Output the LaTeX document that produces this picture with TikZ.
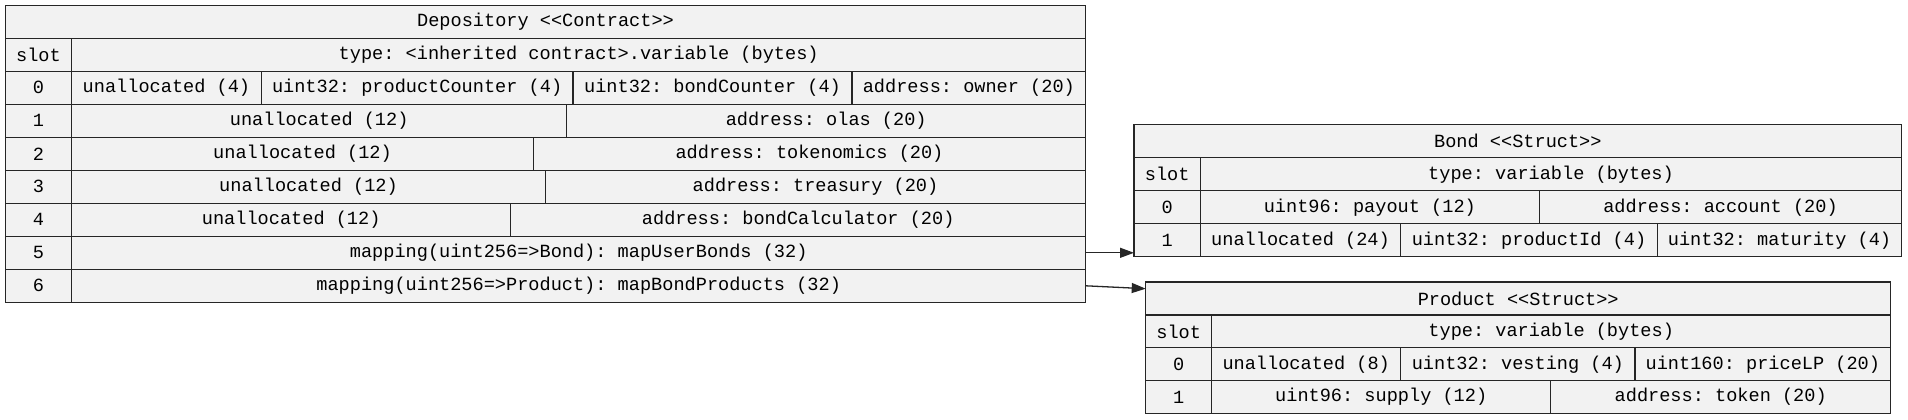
\documentclass[tikz,border=0pt]{standalone}
\usepackage{fontspec}
\setmonofont{Liberation Mono}
\usetikzlibrary{arrows.meta}
\definecolor{cellfill}{HTML}{F2F2F2}
\definecolor{linec}{HTML}{262626}
\tikzset{
  cellbox/.style={draw=linec, fill=cellfill, line width=1.3pt, inner sep=0pt, outer sep=0pt,
    anchor=north west, font=\ttfamily\fontsize{18.6}{20}\selectfont, text=black},
  arr/.style={draw=linec, line width=1.3pt, -{Triangle[length=14pt,width=10pt]}}
}
% \cellnode{name}{x1}{y1}{x2}{y2}{text}
\newcommand\cellnode[6]{%
  \node[cellbox, minimum width={(#4-#2)*1pt}, minimum height={(#5-#3)*1pt}] (#1) at (#2pt,-#3pt) {#6};}
\begin{document}
\begin{tikzpicture}
\useasboundingbox (0,0) rectangle (1908pt,-420pt);
% ---- Depository table
\cellnode{mh}{5.3}{5.3}{1085.7}{38.3}{Depository <<Contract>>}
\cellnode{mss}{5.3}{38.3}{71.7}{71.3}{slot}
\cellnode{mst}{71.7}{38.3}{1085.7}{71.3}{type: <inherited contract>.variable (bytes)}
\cellnode{m0s}{5.3}{71.3}{71.7}{104.3}{0}
\cellnode{m0a}{71.7}{71.3}{261.2}{104.3}{unallocated (4)}
\cellnode{m0b}{261.2}{71.3}{573}{104.3}{uint32: productCounter (4)}
\cellnode{m0c}{573}{71.3}{852}{104.3}{uint32: bondCounter (4)}
\cellnode{m0d}{852}{71.3}{1085.7}{104.3}{address: owner (20)}
\cellnode{m1s}{5.3}{104.3}{71.7}{137.3}{1}
\cellnode{m1a}{71.7}{104.3}{566.7}{137.3}{unallocated (12)}
\cellnode{m1b}{566.7}{104.3}{1085.7}{137.3}{address: olas (20)}
\cellnode{m2s}{5.3}{137.3}{71.7}{170.3}{2}
\cellnode{m2a}{71.7}{137.3}{533.3}{170.3}{unallocated (12)}
\cellnode{m2b}{533.3}{137.3}{1085.7}{170.3}{address: tokenomics (20)}
\cellnode{m3s}{5.3}{170.3}{71.7}{203.3}{3}
\cellnode{m3a}{71.7}{170.3}{545.3}{203.3}{unallocated (12)}
\cellnode{m3b}{545.3}{170.3}{1085.7}{203.3}{address: treasury (20)}
\cellnode{m4s}{5.3}{203.3}{71.7}{236.3}{4}
\cellnode{m4a}{71.7}{203.3}{510.7}{236.3}{unallocated (12)}
\cellnode{m4b}{510.7}{203.3}{1085.7}{236.3}{address: bondCalculator (20)}
\cellnode{m5s}{5.3}{236.3}{71.7}{269.3}{5}
\cellnode{m5}{71.7}{236.3}{1085.7}{269.3}{mapping(uint256=>Bond): mapUserBonds (32)}
\cellnode{m6s}{5.3}{269.3}{71.7}{302.3}{6}
\cellnode{m6}{71.7}{269.3}{1085.7}{302.3}{mapping(uint256=>Product): mapBondProducts (32)}
% ---- Bond table
\cellnode{bh}{1134}{124.7}{1901.7}{157.7}{Bond <<Struct>>}
\cellnode{bss}{1134}{157.7}{1200.3}{190.7}{slot}
\cellnode{bst}{1200.3}{157.7}{1901.7}{190.7}{type: variable (bytes)}
\cellnode{b0s}{1134}{190.7}{1200.3}{223.7}{0}
\cellnode{b0a}{1200.3}{190.7}{1539.3}{223.7}{uint96: payout (12)}
\cellnode{b0b}{1539.3}{190.7}{1901.7}{223.7}{address: account (20)}
\cellnode{b1s}{1134}{223.7}{1200.3}{256.7}{1}
\cellnode{b1a}{1200.3}{223.7}{1400.7}{256.7}{unallocated (24)}
\cellnode{b1b}{1400.7}{223.7}{1657.3}{256.7}{uint32: productId (4)}
\cellnode{b1c}{1657.3}{223.7}{1901.7}{256.7}{uint32: maturity (4)}
% ---- Product table
\cellnode{ph}{1145.7}{282}{1890.7}{314.9}{Product <<Struct>>}
\cellnode{pss}{1145.7}{314.9}{1211.7}{347.8}{slot}
\cellnode{pst}{1211.7}{314.9}{1890.7}{347.8}{type: variable (bytes)}
\cellnode{p0s}{1145.7}{347.8}{1211.7}{380.7}{0}
\cellnode{p0a}{1211.7}{347.8}{1400.7}{380.7}{unallocated (8)}
\cellnode{p0b}{1400.7}{347.8}{1635}{380.7}{uint32: vesting (4)}
\cellnode{p0c}{1635}{347.8}{1890.7}{380.7}{uint160: priceLP (20)}
\cellnode{p1s}{1145.7}{380.7}{1211.7}{413.6}{1}
\cellnode{p1a}{1211.7}{380.7}{1550.7}{413.6}{uint96: supply (12)}
\cellnode{p1b}{1550.7}{380.7}{1890.7}{413.6}{address: token (20)}
% ---- connectors
\draw[arr] (m5.east) -- (m5.east -| b1s.west);
\draw[arr] (m6.east) -- ([yshift=-6.7pt]ph.north west);
\end{tikzpicture}
\end{document}
